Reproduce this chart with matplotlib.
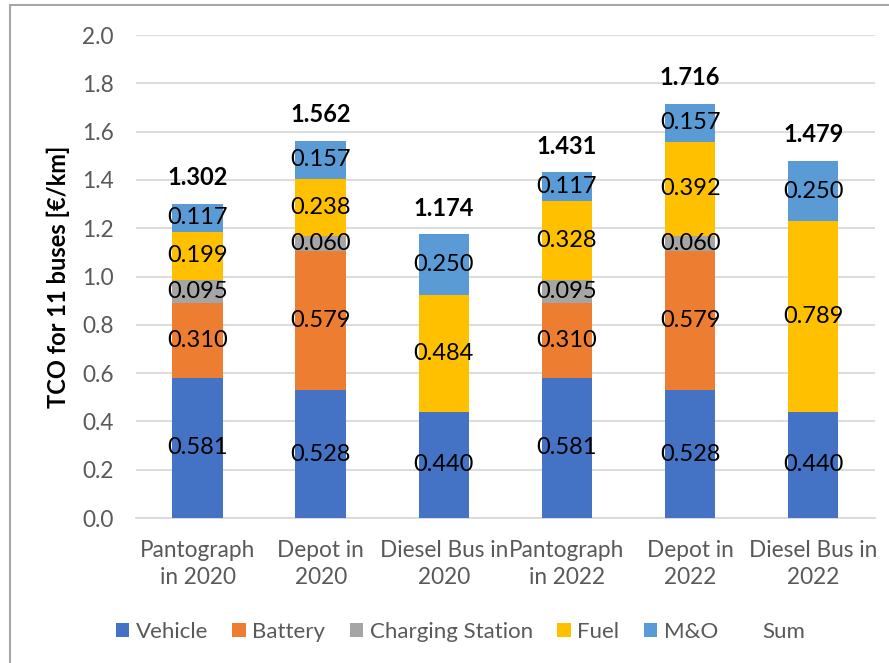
import matplotlib.pyplot as plt
import matplotlib.patches as mpatches
import numpy as np

plt.rcParams['font.family'] = ['Lato', 'DejaVu Sans']

categories = ['Pantograph\nin 2020', 'Depot in\n2020', 'Diesel Bus in\n2020',
              'Pantograph\nin 2022', 'Depot in\n2022', 'Diesel Bus in\n2022']
vehicle = [0.581, 0.528, 0.440, 0.581, 0.528, 0.440]
battery = [0.310, 0.579, 0.0, 0.310, 0.579, 0.0]
charging = [0.095, 0.060, 0.0, 0.095, 0.060, 0.0]
fuel = [0.199, 0.238, 0.484, 0.328, 0.392, 0.789]
mo = [0.117, 0.157, 0.250, 0.117, 0.157, 0.250]
totals = [1.302, 1.562, 1.174, 1.431, 1.716, 1.479]

series = [('Vehicle', vehicle, '#4472C4'),
          ('Battery', battery, '#ED7D31'),
          ('Charging Station', charging, '#A5A5A5'),
          ('Fuel', fuel, '#FFC000'),
          ('M&O', mo, '#5B9BD5')]

fig = plt.figure(figsize=(8.89, 6.63), dpi=100)
ax = fig.add_axes([0.153, 0.2187, 0.831, 0.7285])

# chart border (Excel chart area)
fig.patches.append(mpatches.Rectangle((10 / 889, -0.1), 1.2, 1 - 5 / 663 + 0.1,
                                      transform=fig.transFigure, fill=False,
                                      edgecolor='#A6A6A6', lw=1.5))

x = np.arange(len(categories))
bottom = np.zeros(len(categories))
handles = []
for name, vals, col in series:
    vals = np.array(vals)
    bars = ax.bar(x, vals, 0.41, bottom=bottom, color=col, label=name, zorder=3)
    handles.append(bars)
    for xi, b, v in zip(x, bottom, vals):
        if v > 0:
            ax.text(xi, b + v / 2, '%.3f' % v, ha='center', va='center',
                    fontsize=17, color='black', zorder=4)
    bottom += vals

for xi, t in zip(x, totals):
    ax.annotate('%.3f' % t, (xi, t), xytext=(0, 19), textcoords='offset points',
                ha='center', va='center', fontsize=17, fontweight='bold')

ax.set_xlim(-0.5, 5.5)
ax.set_ylim(0, 2.0)
ax.set_yticks(np.arange(0, 2.01, 0.2))
ax.set_yticklabels(['%.1f' % v for v in np.arange(0, 2.01, 0.2)])
ax.set_xticks(x)
ax.set_xticklabels(categories, linespacing=1.35)
ax.tick_params(axis='both', length=0, labelsize=16.3, colors='#595959')
ax.tick_params(axis='x', pad=16)
ax.tick_params(axis='y', pad=16)
ax.grid(axis='y', color='#D9D9D9', lw=1.3, zorder=0)
for s in ['left', 'right', 'top']:
    ax.spines[s].set_visible(False)
ax.spines['bottom'].set_color('#D9D9D9')
ax.spines['bottom'].set_linewidth(1.3)
ax.set_ylabel('TCO for 11 buses [€/km]', fontsize=17, fontweight='bold', labelpad=9)

sum_handle = mpatches.Patch(facecolor='none', edgecolor='none', label='Sum')
leg = fig.legend(handles + [sum_handle], [s[0] for s in series] + ['Sum'],
                 loc='center', bbox_to_anchor=(0.518, 0.047), ncol=6, frameon=False,
                 fontsize=16, handlelength=0.6, handleheight=0.6,
                 handletextpad=0.3, columnspacing=1.1)
for t in leg.get_texts():
    t.set_color('#595959')

fig.savefig('out.png', dpi=100)
